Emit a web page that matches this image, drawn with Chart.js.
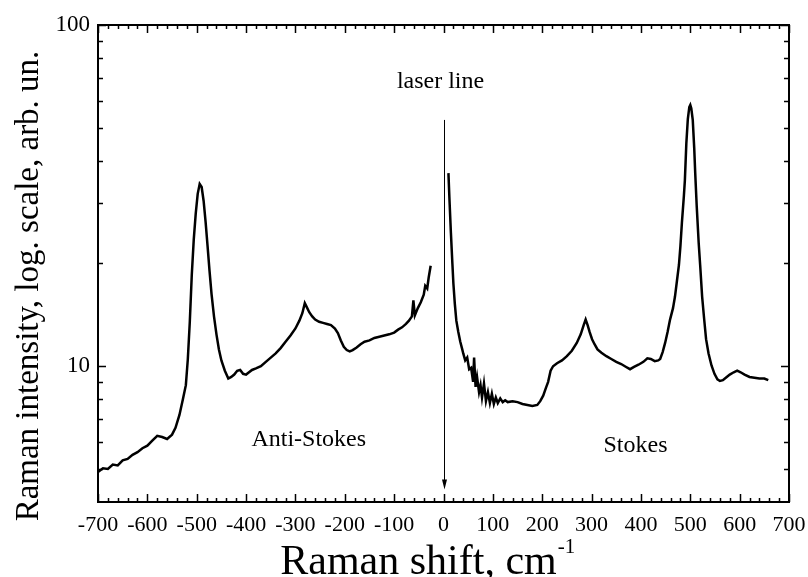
<!DOCTYPE html>
<html lang="en">
<head>
    <meta charset="UTF-8">
    <title>Raman spectrum</title>
    <script src="https://cdn.jsdelivr.net/npm/chart.js"></script>
    <style>
        html, body { margin: 0; padding: 0; background: #fff; }
    </style>
</head>
<body>
    <canvas id="chart" width="808" height="577"></canvas>

    <script>
        // anti-Stokes branch (negative shift)
        const antiStokesShift = [-700, -690, -680, -670, -660, -650, -640, -630, -620, -610, -600, -590, -580, -570,
            -560, -550, -543, -535, -528, -522, -518, -514, -510, -506, -502, -498, -494, -490, -486, -482, -478,
            -474, -470, -465, -460, -455, -450, -443, -436, -430, -424, -418, -412, -406, -400, -394, -388, -380,
            -370, -360, -350, -340, -330, -320, -310, -300, -292, -286, -281, -277, -272, -266, -260, -252, -244,
            -236, -228, -220, -214, -208, -202, -196, -190, -184, -176, -168, -160, -150, -140, -130, -120, -110,
            -100, -92, -84, -76, -70, -64, -61, -58, -52, -46, -40, -37, -33, -30, -26];
        const antiStokesIntensity = [4.9, 5.02, 5.0, 5.15, 5.12, 5.3, 5.35, 5.5, 5.6, 5.75, 5.85, 6.05, 6.25, 6.2,
            6.12, 6.3, 6.6, 7.2, 8.0, 8.8, 10.5, 13.5, 18.5, 23.5, 28, 32, 34.2, 33.5, 30.5, 26.5, 22.5,
            19, 16.3, 14.0, 12.4, 11.2, 10.4, 9.7, 9.2, 9.3, 9.45, 9.7, 9.75, 9.5, 9.45, 9.6, 9.75, 9.85,
            10.0, 10.3, 10.6, 10.9, 11.3, 11.8, 12.3, 12.9, 13.6, 14.3, 15.3, 14.9, 14.4, 14.0, 13.7, 13.5, 13.4,
            13.3, 13.2, 12.9, 12.5, 11.9, 11.4, 11.15, 11.05, 11.15, 11.35, 11.6, 11.8, 11.9, 12.1, 12.2, 12.3, 12.4,
            12.55, 12.8, 13.0, 13.3, 13.6, 14.0, 15.6, 14.1, 14.8, 15.4, 16.2, 17.2, 16.9, 18.2, 19.7];

        // Stokes branch (positive shift)
        const stokesShift = [10, 12, 15, 18, 20, 23, 26, 30, 34, 38, 40, 44, 48, 52, 56, 60, 62, 65, 68, 72, 75,
            78, 82, 86, 90, 94, 98, 102, 106, 110, 115, 120, 125, 130, 140, 150, 160, 170, 180, 190, 196, 202, 207,
            212, 217, 222, 230, 240, 250, 260, 270, 278, 284, 288, 292, 296, 301, 306, 312, 320, 330, 340, 350, 360,
            370, 378, 386, 395, 405, 413, 420, 428, 435, 439, 444, 449, 454, 459, 465, 469, 473, 477, 480, 483, 487,
            489, 492, 495, 498, 500, 502, 505, 508, 510, 513, 517, 520, 524, 528, 532, 537, 543, 549, 555, 560, 566,
            572, 580, 588, 595, 602, 610, 620, 630, 640, 650, 658];
        const stokesIntensity = [36.8, 31, 24.6, 20, 17.5, 15.2, 13.6, 12.6, 11.8, 11.2, 10.9, 10.4, 10.6, 9.8, 9.9,
            9.0, 10.6, 8.7, 9.3, 8.4, 8.8, 8.1, 8.9, 7.9, 8.4, 7.8, 8.3, 7.75, 8.1, 7.8, 8.05, 7.85, 7.95, 7.85, 7.9,
            7.85, 7.75, 7.7, 7.65, 7.7, 7.9, 8.2, 8.6, 9.0, 9.7, 10.0, 10.2, 10.4, 10.7, 11.1, 11.7, 12.4, 13.2,
            13.7, 13.2, 12.6, 12.0, 11.6, 11.2, 10.95, 10.7, 10.5, 10.3, 10.15, 9.95, 9.8, 9.95, 10.1, 10.3, 10.55,
            10.5, 10.35, 10.4, 10.5, 11.0, 11.7, 12.6, 13.7, 14.8, 16.0, 17.8, 19.8, 22.5, 26.3, 31.5, 35, 45, 53,
            57.5, 58.3, 57, 52.7, 43.5, 36.8, 29.5, 23, 19.8, 16.0, 13.8, 12.0, 10.9, 10.05, 9.5, 9.15, 9.05, 9.1,
            9.25, 9.45, 9.6, 9.7, 9.6, 9.45, 9.3, 9.25, 9.2, 9.2, 9.1];

        const xTickValues = [-700, -600, -500, -400, -300, -200, -100, 0, 100, 200, 300, 400, 500, 600, 700];
        const yTickValues = [10, 100];
        const yMinorValues = [5, 6, 7, 8, 9, 20, 30, 40, 50, 60, 70, 80, 90];

        const serif = "'Liberation Serif', 'Times New Roman', serif";

        function toPoints(xs, ys) {
            return xs.map((x, i) => ({ x: x, y: ys[i] }));
        }

        // frame, inward ticks, annotations and axis titles
        const framePlugin = {
            id: 'frame',
            afterDraw(chart) {
                const ctx = chart.ctx;
                const a = chart.chartArea;
                const xs = chart.scales.x;
                const ys = chart.scales.y;
                ctx.save();
                ctx.strokeStyle = '#000';
                ctx.fillStyle = '#000';

                // x ticks, top and bottom
                ctx.lineWidth = 1.5;
                ctx.beginPath();
                for (let v = -700; v <= 700; v += 20) {
                    const px = Math.round(xs.getPixelForValue(v)) + 0.5;
                    const len = v % 100 === 0 ? 8 : 4;
                    ctx.moveTo(px, a.bottom);
                    ctx.lineTo(px, a.bottom - len);
                    ctx.moveTo(px, a.top);
                    ctx.lineTo(px, a.top + len);
                }
                // y ticks, left and right
                const yTicks = yTickValues.map(v => [v, 8]).concat(yMinorValues.map(v => [v, 5]));
                for (const [v, len] of yTicks) {
                    const py = Math.round(ys.getPixelForValue(v)) + 0.5;
                    ctx.moveTo(a.left, py);
                    ctx.lineTo(a.left + len, py);
                    ctx.moveTo(a.right, py);
                    ctx.lineTo(a.right - len, py);
                }
                ctx.stroke();

                ctx.lineWidth = 2;
                ctx.strokeRect(a.left, a.top, a.right - a.left, a.bottom - a.top);

                // laser line arrow
                const x0 = Math.round(xs.getPixelForValue(0)) + 0.5;
                const yTop = ys.getPixelForValue(52.7);
                const yTip = ys.getPixelForValue(4.35);
                ctx.lineWidth = 1;
                ctx.beginPath();
                ctx.moveTo(x0, yTop);
                ctx.lineTo(x0, yTip - 8);
                ctx.stroke();
                ctx.beginPath();
                ctx.moveTo(x0 - 2.5, yTip - 10);
                ctx.lineTo(x0 + 2.5, yTip - 10);
                ctx.lineTo(x0, yTip);
                ctx.closePath();
                ctx.fill();

                // annotations
                ctx.font = '24px ' + serif;
                ctx.textAlign = 'center';
                ctx.textBaseline = 'alphabetic';
                ctx.fillText('laser line', xs.getPixelForValue(-6), ys.getPixelForValue(65.5));
                ctx.fillText('Anti-Stokes', xs.getPixelForValue(-273), ys.getPixelForValue(5.85));
                ctx.fillText('Stokes', xs.getPixelForValue(389), ys.getPixelForValue(5.6));

                // x axis title with superscript
                ctx.font = '42px ' + serif;
                ctx.textAlign = 'left';
                const main = 'Raman shift, cm';
                const w = ctx.measureText(main).width;
                const startX = 427 - (w + 17) / 2;
                ctx.fillText(main, startX, 574);
                ctx.font = '21px ' + serif;
                ctx.fillText('-1', startX + w + 1, 553);

                // y axis title
                ctx.font = '33px ' + serif;
                ctx.textAlign = 'center';
                ctx.translate(38, 286);
                ctx.rotate(-Math.PI / 2);
                ctx.fillText('Raman intensity, log. scale, arb. un.', 0, 0);
                ctx.restore();
            }
        };

        new Chart(document.getElementById('chart'), {
            type: 'scatter',
            data: {
                datasets: [
                    {
                        label: 'Anti-Stokes',
                        data: toPoints(antiStokesShift, antiStokesIntensity),
                        showLine: true,
                        borderColor: '#000',
                        borderWidth: 2.5,
                        pointRadius: 0,
                        tension: 0,
                        fill: false
                    },
                    {
                        label: 'Stokes',
                        data: toPoints(stokesShift, stokesIntensity),
                        showLine: true,
                        borderColor: '#000',
                        borderWidth: 2.5,
                        pointRadius: 0,
                        tension: 0,
                        fill: false
                    }
                ]
            },
            options: {
                responsive: false,
                animation: false,
                layout: { padding: { top: 25, right: 19, left: 0, bottom: 0 } },
                plugins: {
                    legend: { display: false },
                    tooltip: { enabled: false }
                },
                scales: {
                    x: {
                        type: 'linear',
                        min: -700,
                        max: 700,
                        afterBuildTicks(scale) {
                            scale.ticks = xTickValues.map(v => ({ value: v }));
                        },
                        afterFit(scale) {
                            scale.height = 75;
                            scale.paddingLeft = 0;
                            scale.paddingRight = 0;
                        },
                        grid: { display: false, drawTicks: false },
                        border: { display: false },
                        ticks: {
                            color: '#000',
                            font: { family: serif, size: 22 },
                            padding: 10,
                            maxRotation: 0,
                            autoSkip: false
                        }
                    },
                    y: {
                        type: 'logarithmic',
                        min: 4,
                        max: 100,
                        afterBuildTicks(scale) {
                            scale.ticks = yTickValues.map(v => ({ value: v }));
                        },
                        afterFit(scale) {
                            scale.width = 98;
                            scale.paddingTop = 0;
                            scale.paddingBottom = 0;
                        },
                        grid: { display: false, drawTicks: false },
                        border: { display: false },
                        ticks: {
                            color: '#000',
                            font: { family: serif, size: 23 },
                            padding: 8,
                            callback: v => String(v)
                        }
                    }
                }
            },
            plugins: [framePlugin]
        });
    </script>
</body>
</html>
